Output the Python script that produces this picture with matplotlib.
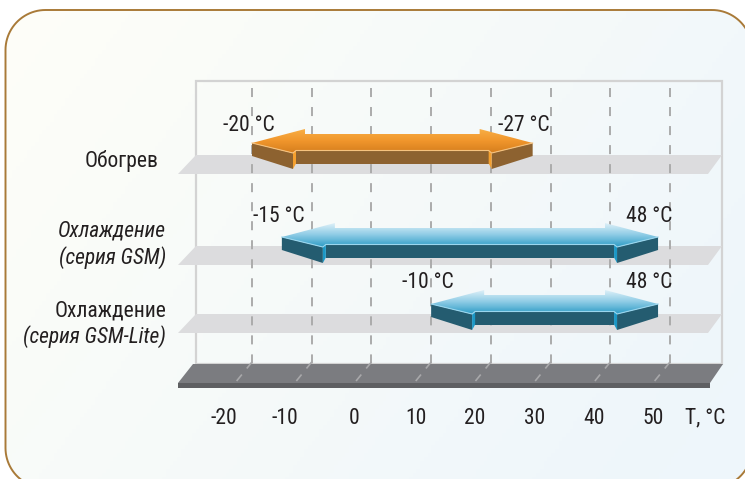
import numpy as np
import matplotlib
matplotlib.use("Agg")
import matplotlib.pyplot as plt
from matplotlib.patches import Polygon, Rectangle
from matplotlib.colors import LinearSegmentedColormap

plt.rcParams['font.family'] = ['Roboto Condensed', 'DejaVu Sans']
plt.rcParams['lines.scale_dashes'] = False

# --- data ---
categories = ['Обогрев', 'Охлаждение', 'Охлаждение']
subtitles = [None, '(серия GSM)', '(серия GSM-Lite)']
t_min = [-20, -15, 10]
t_max = [27, 48, 48]
min_labels = ['-20 °C', '-15 °C', '-10 °C']
max_labels = ['-27 °C', '48 °C', '48 °C']
ticks = [-20, -10, 0, 10, 20, 30, 40, 50]
tick_labels = ['-20', '-10', '0', '10', '20', '30', '40', '50']
axis_label = 'T, °C'

# --- layout (pixels) ---
W, H = 745, 479
PPD = 5.9714          # pixels per degree
X20 = 252             # pixel column of -20 °C on the back wall
row_y = [143, 237, 304]
shelf_y = [155, 246, 314]
text_c = '#231F20'
FS = 15.5

fig = plt.figure(figsize=(W / 100, H / 100), dpi=100)
bg = fig.add_axes([0, 0, 1, 1])
bg.set_xlim(0, W)
bg.set_ylim(H, 0)
bg.axis('off')

ax = fig.add_axes([0, 0, 1, 1], facecolor='none')
ax.set_xlim(-20 - X20 / PPD, -20 + (W - X20) / PPD)
ax.set_ylim(H, 0)
ax.axis('off')


def d(px):
    return px / PPD


def px2t(px):
    return -20 + (px - X20) / PPD


def rounded_rect(x0, y0, x1, y1, r, n=24):
    pts = []
    corners = [(x1 - r, y0 + r, -90, 0), (x1 - r, y1 - r, 0, 90),
               (x0 + r, y1 - r, 90, 180), (x0 + r, y0 + r, 180, 270)]
    for cx, cy, a0, a1 in corners:
        a = np.radians(np.linspace(a0, a1, n))
        pts += list(zip(cx + r * np.cos(a), cy + r * np.sin(a)))
    return pts


# frame with soft gradient
frame = Polygon(rounded_rect(5.5, 10, 752, 488, 40), closed=True,
                facecolor='none', edgecolor='#A97A38', lw=1.4, zorder=5)
bg.add_patch(frame)
u, v = np.meshgrid(np.linspace(0, 1, 200), np.linspace(0, 1, 120))
m = np.clip(0.75 * u + 0.35 * v, 0, 1)
c0 = np.array([254, 254, 248]) / 255
c1 = np.array([238, 246, 251]) / 255
img = c0[None, None, :] * (1 - m[..., None]) + c1[None, None, :] * m[..., None]
im = bg.imshow(img, extent=(5, 753, 489, 10), origin='upper', aspect='auto', zorder=0)
im.set_clip_path(frame)
bg.set_xlim(0, W)
bg.set_ylim(H, 0)

# back wall, shelves, floor
bg.add_patch(Rectangle((196, 81), 526, 283, facecolor='none', edgecolor='#D3D3D3', lw=1.6, zorder=1))
for yt in shelf_y:
    bg.add_patch(Polygon([(196, yt), (722, yt), (708, yt + 19), (178, yt + 19)],
                         closed=True, facecolor='#DCDCDE', edgecolor='none', zorder=1))

for t in ticks:
    ax.plot([t, t], [88, 364], color='#ABABAB', lw=1.4, dashes=(6.5, 7.2), zorder=2)

ax.add_patch(Polygon([(px2t(193), 364), (px2t(723), 364), (px2t(710), 383), (px2t(178), 383)],
                     closed=True, facecolor='#7B7C80', edgecolor='none', zorder=3))
ax.add_patch(Rectangle((px2t(178), 383), d(532), 5, facecolor='#5E5F62', edgecolor='none', zorder=3))
for t in ticks:
    ax.plot([t, t - d(17)], [362, 383], color='#A8A8AA', lw=1.2, dashes=(6.0, 5.6), zorder=4)


def draw_arrow(t0, t1, y, top_cols, front_c, side_c, hi_c):
    L, R = t0, t1
    hb, hf, hs = d(53), d(41), d(44)
    # front faces
    ax.add_patch(Polygon([(L + hs, y + 7.5), (R - hs, y + 7.5), (R - hs, y + 20.5), (L + hs, y + 20.5)],
                         closed=True, facecolor=front_c, edgecolor='none', zorder=6))
    for tip, s in ((L, 1), (R, -1)):
        ax.add_patch(Polygon([(tip, y), (tip + s * hf, y + 10), (tip + s * hf, y + 26), (tip, y + 13)],
                             closed=True, facecolor=front_c, edgecolor='none', zorder=6))
        ax.add_patch(Polygon([(tip + s * hf, y + 10), (tip + s * hs, y + 7.5), (tip + s * hs, y + 20.5),
                              (tip + s * hf, y + 26)],
                             closed=True, facecolor=side_c, edgecolor='none', zorder=6))
    # top face with vertical gradient
    top = [(L, y), (L + hb, y - 14), (L + hb, y - 9), (R - hb, y - 9), (R - hb, y - 14), (R, y),
           (R - hf, y + 10), (R - hs, y + 7.5), (L + hs, y + 7.5), (L + hf, y + 10)]
    poly = Polygon(top, closed=True, facecolor='none', edgecolor='none', zorder=7)
    ax.add_patch(poly)
    cmap = LinearSegmentedColormap.from_list('g', top_cols)
    grad = np.linspace(0, 1, 64)[:, None]
    gi = ax.imshow(grad, cmap=cmap, extent=(L, R, y + 10, y - 14), origin='upper',
                   aspect='auto', zorder=7)
    gi.set_clip_path(poly)
    ax.plot([L, L + hf, L + hs, R - hs, R - hf, R], [y, y + 10, y + 7.5, y + 7.5, y + 10, y],
            color=hi_c, lw=0.8, zorder=8, solid_joinstyle='miter')


orange = (['#F8AE45', '#F0952B', '#D57E1E'], '#8D6230', '#F5A02E', '#F6C27E')
blue = (['#DDF0F8', '#8CCBE5', '#2E9CC6'], '#245C70', '#1B98C6', '#9AD6EE')
styles = [orange, blue, blue]

for i in range(3):
    y = row_y[i]
    draw_arrow(t_min[i], t_max[i], y, *styles[i])
    dy = -18 if i == 0 else -21
    ax.text(t_min[i] - d(3), y + dy, min_labels[i], ha='center', va='center',
            fontsize=FS, color=text_c, zorder=9)
    ax.text(t_max[i] - d(9), y + dy, max_labels[i], ha='center', va='center',
            fontsize=FS, color=text_c, zorder=9)

ax.set_xlim(-20 - X20 / PPD, -20 + (W - X20) / PPD)
ax.set_ylim(H, 0)

# category labels
bg.text(159, 161, categories[0], ha='right', va='center', fontsize=FS, color=text_c)
bg.text(166, 231, categories[1], ha='right', va='center', fontsize=FS, color=text_c, style='italic')
bg.text(166, 258, subtitles[1], ha='right', va='center', fontsize=FS, color=text_c, style='italic')
bg.text(166, 311, categories[2], ha='right', va='center', fontsize=FS, color=text_c)
bg.text(166, 337, subtitles[2], ha='right', va='center', fontsize=FS, color=text_c, style='italic')

# tick labels (front edge of the floor sits left of the wall grid)
tick_shift = [-28, -27, -17, -15, -16, -16, -16, -17]
for t, lab, s in zip(ticks, tick_labels, tick_shift):
    ax.text(t + d(s), 418, lab, ha='center', va='center', fontsize=FS, color=text_c)
ax.text(px2t(685), 418, axis_label, ha='left', va='center', fontsize=FS, color=text_c)

fig.savefig('out.png', dpi=100)
